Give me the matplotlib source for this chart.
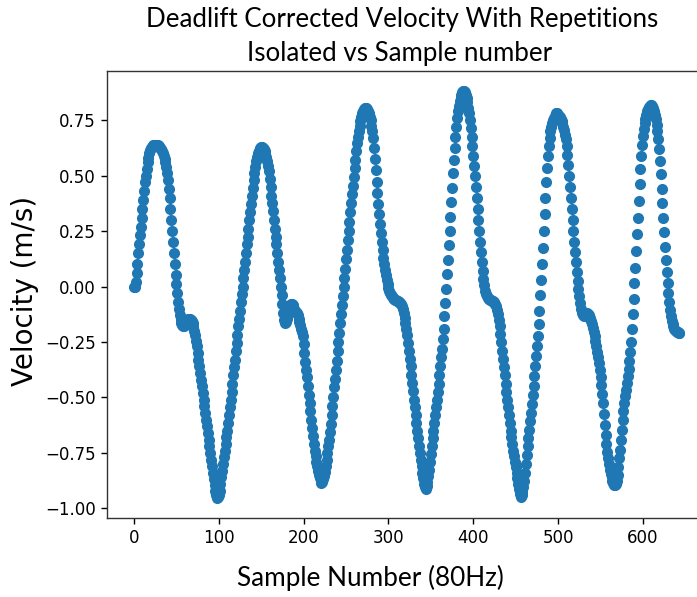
import numpy as np
import matplotlib
matplotlib.use("Agg")
import matplotlib.pyplot as plt

# Corrected velocity (m/s) per sample
velocity = [
    0.00, 0.00, 0.02, 0.06, 0.10, 0.15, 0.19, 0.23, 0.27, 0.31,
    0.35, 0.39, 0.43, 0.47, 0.50, 0.53, 0.56, 0.58, 0.60, 0.615,
    0.625, 0.63, 0.635, 0.64, 0.64, 0.64, 0.64, 0.64, 0.64, 0.635,
    0.63, 0.625, 0.62, 0.61, 0.60, 0.59, 0.575, 0.56, 0.54, 0.51,
    0.48, 0.44, 0.40, 0.35, 0.30, 0.25, 0.20, 0.15, 0.10, 0.05,
    0.01, -0.03, -0.07, -0.10, -0.13, -0.15, -0.165, -0.175, -0.18, -0.18,
    -0.175, -0.165, -0.155, -0.15, -0.145, -0.145, -0.145, -0.15, -0.155, -0.165,
    -0.18, -0.20, -0.22, -0.245, -0.27, -0.30, -0.33, -0.36, -0.39, -0.42,
    -0.45, -0.48, -0.51, -0.54, -0.57, -0.60, -0.63, -0.66, -0.69, -0.72,
    -0.75, -0.78, -0.81, -0.84, -0.87, -0.895, -0.92, -0.94, -0.952, -0.95,
    -0.94, -0.92, -0.89, -0.86, -0.83, -0.80, -0.77, -0.74, -0.71, -0.68,
    -0.65, -0.615, -0.58, -0.545, -0.51, -0.475, -0.44, -0.40, -0.365, -0.33,
    -0.29, -0.255, -0.22, -0.18, -0.145, -0.11, -0.07, -0.035, 0.00, 0.04,
    0.075, 0.11, 0.15, 0.19, 0.225, 0.26, 0.30, 0.335, 0.37, 0.41,
    0.445, 0.48, 0.51, 0.54, 0.565, 0.585, 0.60, 0.61, 0.62, 0.625,
    0.63, 0.63, 0.625, 0.62, 0.61, 0.60, 0.585, 0.565, 0.545, 0.52,
    0.485, 0.45, 0.41, 0.375, 0.34, 0.30, 0.26, 0.225, 0.19, 0.15,
    0.11, 0.075, 0.04, 0.00, -0.04, -0.08, -0.12, -0.15, -0.165, -0.16,
    -0.145, -0.125, -0.11, -0.095, -0.085, -0.08, -0.08, -0.085, -0.09, -0.10,
    -0.11, -0.115, -0.12, -0.13, -0.145, -0.16, -0.175, -0.19, -0.205, -0.225,
    -0.26, -0.30, -0.34, -0.375, -0.41, -0.45, -0.49, -0.525, -0.56, -0.60,
    -0.64, -0.675, -0.71, -0.74, -0.765, -0.79, -0.81, -0.83, -0.85, -0.865,
    -0.875, -0.885, -0.88, -0.87, -0.855, -0.835, -0.81, -0.78, -0.75, -0.72,
    -0.69, -0.655, -0.62, -0.58, -0.54, -0.50, -0.455, -0.415, -0.375, -0.335,
    -0.29, -0.25, -0.21, -0.165, -0.125, -0.085, -0.045, 0.00, 0.04, 0.08,
    0.125, 0.165, 0.21, 0.25, 0.29, 0.335, 0.375, 0.415, 0.455, 0.495,
    0.535, 0.57, 0.61, 0.645, 0.675, 0.70, 0.725, 0.745, 0.765, 0.78,
    0.79, 0.80, 0.805, 0.807, 0.805, 0.80, 0.79, 0.78, 0.765, 0.75,
    0.725, 0.70, 0.67, 0.625, 0.575, 0.525, 0.47, 0.42, 0.37, 0.325,
    0.28, 0.24, 0.20, 0.165, 0.13, 0.10, 0.075, 0.05, 0.03, 0.01,
    -0.005, -0.02, -0.03, -0.04, -0.045, -0.05, -0.055, -0.058, -0.06, -0.062,
    -0.064, -0.066, -0.068, -0.07, -0.075, -0.08, -0.09, -0.10, -0.12, -0.14,
    -0.165, -0.19, -0.22, -0.255, -0.29, -0.325, -0.36, -0.40, -0.435, -0.47,
    -0.51, -0.545, -0.58, -0.615, -0.65, -0.685, -0.72, -0.75, -0.78, -0.81,
    -0.84, -0.865, -0.89, -0.905, -0.915, -0.90, -0.88, -0.855, -0.825, -0.79,
    -0.755, -0.72, -0.685, -0.65, -0.615, -0.58, -0.545, -0.51, -0.475, -0.44,
    -0.40, -0.36, -0.32, -0.28, -0.235, -0.19, -0.135, -0.075, -0.01, 0.055,
    0.12, 0.185, 0.25, 0.315, 0.38, 0.445, 0.51, 0.57, 0.625, 0.675,
    0.72, 0.76, 0.79, 0.815, 0.835, 0.85, 0.865, 0.875, 0.88, 0.88,
    0.875, 0.865, 0.85, 0.83, 0.805, 0.78, 0.75, 0.715, 0.675, 0.635,
    0.59, 0.545, 0.50, 0.45, 0.40, 0.35, 0.30, 0.25, 0.20, 0.155,
    0.11, 0.07, 0.035, 0.005, -0.02, -0.035, -0.045, -0.05, -0.055, -0.058,
    -0.06, -0.062, -0.064, -0.066, -0.07, -0.075, -0.08, -0.09, -0.105, -0.125,
    -0.15, -0.18, -0.215, -0.25, -0.29, -0.325, -0.365, -0.40, -0.44, -0.475,
    -0.51, -0.545, -0.58, -0.615, -0.65, -0.68, -0.71, -0.74, -0.765, -0.79,
    -0.815, -0.84, -0.865, -0.89, -0.915, -0.935, -0.95, -0.94, -0.925, -0.905,
    -0.875, -0.84, -0.80, -0.76, -0.72, -0.685, -0.645, -0.605, -0.57, -0.53,
    -0.49, -0.45, -0.405, -0.36, -0.315, -0.27, -0.225, -0.17, -0.11, -0.04,
    0.03, 0.10, 0.175, 0.25, 0.325, 0.40, 0.47, 0.535, 0.59, 0.635,
    0.67, 0.70, 0.72, 0.735, 0.75, 0.76, 0.77, 0.775, 0.78, 0.78,
    0.775, 0.77, 0.765, 0.755, 0.745, 0.735, 0.72, 0.705, 0.685, 0.665,
    0.635, 0.595, 0.55, 0.50, 0.45, 0.40, 0.35, 0.30, 0.25, 0.20,
    0.155, 0.11, 0.065, 0.025, -0.01, -0.045, -0.075, -0.10, -0.12, -0.13,
    -0.135, -0.13, -0.125, -0.12, -0.12, -0.125, -0.13, -0.14, -0.145, -0.155,
    -0.17, -0.185, -0.205, -0.225, -0.245, -0.27, -0.295, -0.32, -0.345, -0.375,
    -0.41, -0.445, -0.485, -0.525, -0.575, -0.625, -0.67, -0.71, -0.745, -0.775,
    -0.80, -0.825, -0.845, -0.86, -0.875, -0.885, -0.893, -0.897, -0.89, -0.875,
    -0.85, -0.815, -0.775, -0.735, -0.69, -0.645, -0.60, -0.56, -0.525, -0.495,
    -0.465, -0.435, -0.405, -0.37, -0.335, -0.295, -0.25, -0.19, -0.125, -0.055,
    0.015, 0.085, 0.16, 0.235, 0.31, 0.385, 0.46, 0.53, 0.59, 0.64,
    0.68, 0.71, 0.735, 0.755, 0.775, 0.79, 0.80, 0.81, 0.815, 0.82,
    0.82, 0.815, 0.805, 0.79, 0.775, 0.755, 0.73, 0.70, 0.665, 0.62,
    0.565, 0.505, 0.44, 0.375, 0.31, 0.245, 0.18, 0.12, 0.065, 0.015,
    -0.03, -0.07, -0.105, -0.135, -0.155, -0.17, -0.18, -0.19, -0.195, -0.20,
    -0.205, -0.205, -0.21, -0.21,
]
sample_number = np.arange(len(velocity))

title_line1 = "Deadlift Corrected Velocity With Repetitions"
title_line2 = "Isolated vs Sample number"
x_label = "Sample Number (80Hz)"
y_label = "Velocity (m/s)"
x_ticks = [0, 100, 200, 300, 400, 500, 600]
y_ticks = [-1.00, -0.75, -0.50, -0.25, 0.00, 0.25, 0.50, 0.75]

W, H = 697, 597
fig = plt.figure(figsize=(W / 100, H / 100), dpi=100)
ax = fig.add_axes([106.7 / W, 79 / H, 600 / W, 447 / H])

ax.scatter(sample_number, velocity, s=64, color="#1f77b4", linewidths=0)

ax.set_xticks(x_ticks)
ax.set_yticks(y_ticks)
ax.set_yticklabels([f"{t:.2f}".replace("-", "\u2212") for t in y_ticks])
ax.tick_params(labelsize=12, length=4.2, width=1.0)
for sp in ax.spines.values():
    sp.set_linewidth(1.0)
    sp.set_color("#333333")

title_font = ["Lato", "DejaVu Sans"]
fig.text(402 / W, 1 - 20 / H, title_line1, ha="center", va="center",
         fontsize=18.6, family=title_font)
fig.text(400 / W, 1 - 53 / H, title_line2, ha="center", va="center",
         fontsize=18.6, family=title_font)
fig.text(370 / W, 1 - 578 / H, x_label, ha="center", va="center",
         fontsize=18.8, family=title_font)
fig.text(25 / W, 1 - 291 / H, y_label, ha="center", va="center",
         rotation=90, fontsize=20)

fig.savefig("out.png", dpi=100)
